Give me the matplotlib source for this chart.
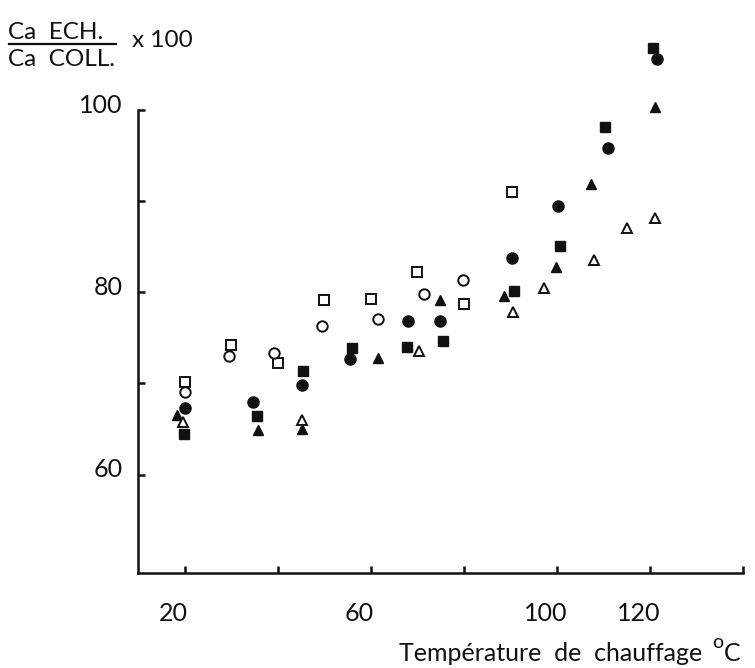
import matplotlib
matplotlib.use("Agg")
import matplotlib.pyplot as plt
import matplotlib.transforms as mtransforms
import numpy as np

plt.rcParams['font.family'] = ['Lato', 'DejaVu Sans']

# open squares
sq_open_x = [20, 30, 40, 50, 60, 70, 80, 90.5]
sq_open_y = [70.2, 74.2, 72.2, 79.1, 79.3, 82.2, 78.7, 91.0]
# open circles
ci_open_x = [20, 29.6, 39.2, 49.5, 61.5, 71.4, 79.8]
ci_open_y = [69.1, 73.0, 73.3, 76.3, 77.1, 79.8, 81.3]
# filled circles
ci_fill_x = [20.1, 34.8, 45.3, 55.6, 68.1, 75.0, 90.5, 100.3, 111.0, 121.6]
ci_fill_y = [67.3, 68.0, 69.8, 72.7, 76.9, 76.9, 83.8, 89.5, 95.8, 105.6]
# filled squares
sq_fill_x = [19.9, 35.5, 45.4, 55.9, 67.9, 75.5, 90.8, 100.8, 110.3, 120.7]
sq_fill_y = [64.5, 66.4, 71.4, 73.9, 74.0, 74.7, 80.1, 85.1, 98.1, 106.8]
# filled triangles
tr_fill_x = [18.4, 35.9, 45.2, 61.6, 75.0, 88.7, 99.9, 107.3, 121.1]
tr_fill_y = [66.5, 64.9, 65.0, 72.8, 79.2, 79.6, 82.8, 91.9, 100.3]
# open triangles
tr_open_x = [19.7, 45.2, 70.5, 90.7, 97.3, 108.1, 115.2, 121.2]
tr_open_y = [65.8, 66.0, 73.6, 77.8, 80.5, 83.5, 87.0, 88.2]

x_ticks = [20, 40, 60, 80, 100, 120, 140]
x_labels = ['20', '', '60', '', '100', '120', '']
y_ticks = [60, 70, 80, 90, 100]
y_labels = ['60', '', '80', '', '100']

W, H = 755, 668
fig = plt.figure(figsize=(W / 100, H / 100), dpi=100)
ax = fig.add_axes([138 / W, 1 - 573 / H, (742.7 - 138) / W, (573 - 110) / H])
ax.set_xlim(10, 140)
ax.set_ylim(49.2, 100)

ink = '#111111'
common = dict(linestyle='none', clip_on=False, zorder=3)
ax.plot(sq_open_x, sq_open_y, marker='s', ms=6.5, mfc='white', mec=ink, mew=1.4, **common)
ax.plot(ci_open_x, ci_open_y, marker='o', ms=7.5, mfc='white', mec=ink, mew=1.4, **common)
ax.plot(ci_fill_x, ci_fill_y, marker='o', ms=8, mfc=ink, mec=ink, **common)
ax.plot(sq_fill_x, sq_fill_y, marker='s', ms=7, mfc=ink, mec=ink, **common)
ax.plot(tr_fill_x, tr_fill_y, marker='^', ms=7.5, mfc=ink, mec=ink, **common)
ax.plot(tr_open_x, tr_open_y, marker='^', ms=7.5, mfc='white', mec=ink, mew=1.4, **common)

for s in ['top', 'right']:
    ax.spines[s].set_visible(False)
for s in ['left', 'bottom']:
    ax.spines[s].set_linewidth(1.8)
    ax.spines[s].set_color(ink)

ax.set_xticks(x_ticks)
ax.set_xticklabels(x_labels)
ax.set_yticks(y_ticks)
ax.set_yticklabels(y_labels)
ax.tick_params(axis='both', direction='in', length=5, width=1.8, color=ink,
               labelsize=18, labelcolor=ink)
ax.tick_params(axis='x', pad=21)
ax.tick_params(axis='y', pad=11)

shift_x = mtransforms.ScaledTranslation(-8 / 72, 0, fig.dpi_scale_trans)
for lab in ax.get_xticklabels():
    lab.set_transform(lab.get_transform() + shift_x)
shift_y = mtransforms.ScaledTranslation(0, 5 / 72, fig.dpi_scale_trans)
for lab in ax.get_yticklabels():
    lab.set_transform(lab.get_transform() + shift_y)

# x axis title
fig.text(702 / W, 1 - 661 / H, 'Température  de  chauffage', ha='right', va='baseline',
         fontsize=18, color=ink)
fig.text(724 / W, 1 - 661 / H, 'C', ha='left', va='baseline', fontsize=18, color=ink)
fig.text(712 / W, 1 - 648 / H, 'o', ha='left', va='baseline', fontsize=14, color=ink)

# y axis title as a fraction
fig.text(8 / W, 1 - 39 / H, 'Ca  ECH.', ha='left', va='baseline', fontsize=17.5, color=ink)
fig.add_artist(plt.Line2D([9 / W, 116 / W], [1 - 43.5 / H, 1 - 43.5 / H], color=ink, lw=1.6))
fig.text(8 / W, 1 - 66 / H, 'Ca  COLL.', ha='left', va='baseline', fontsize=17.5, color=ink)
fig.text(132 / W, 1 - 47 / H, 'x 100', ha='left', va='baseline', fontsize=17.5, color=ink)

fig.savefig('out.png', dpi=100, facecolor='white')
